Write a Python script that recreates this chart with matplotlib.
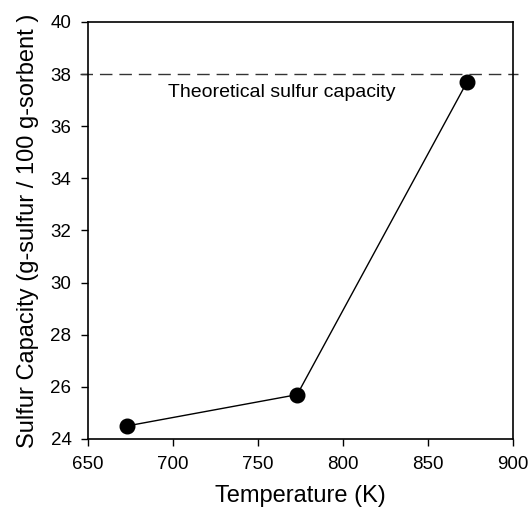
import matplotlib
matplotlib.use('Agg')
import matplotlib.pyplot as plt

plt.rcParams['font.family'] = ['Liberation Sans', 'DejaVu Sans']

# Dados
temperatura = [673, 773, 873]
capacidade = [24.5, 25.7, 37.7]
capacidade_teorica = 38
x_ticks = [650, 700, 750, 800, 850, 900]
y_ticks = [24, 26, 28, 30, 32, 34, 36, 38, 40]

fig = plt.figure(figsize=(5.31, 5.11), dpi=100)
ax = fig.add_axes([0.166, 0.141, 0.800, 0.816])

ax.plot(temperatura, capacidade, color='black', lw=1.0, marker='o',
        markersize=10.5, markerfacecolor='black', zorder=3, clip_on=False)

# Linha tracejada da capacidade teórica (passa um pouco além dos eixos)
ax.plot([645, 903], [capacidade_teorica, capacidade_teorica], color='#333333',
        lw=1.0, dashes=(9, 5), clip_on=False)
ax.text(764, 37.28, 'Theoretical sulfur capacity', ha='center', va='center',
        fontsize=14)

ax.set_xlim(650, 900)
ax.set_ylim(24, 40)
ax.set_xticks(x_ticks)
ax.set_yticks(y_ticks)
ax.tick_params(direction='out', length=5, width=1, labelsize=13.5, pad=7)
for s in ax.spines.values():
    s.set_linewidth(1.2)

ax.set_xlabel('Temperature (K)', fontsize=17, labelpad=9)
ax.set_ylabel('Sulfur Capacity (g-sulfur / 100 g-sorbent )', fontsize=17,
              labelpad=8)

fig.savefig('out.png', dpi=100)
